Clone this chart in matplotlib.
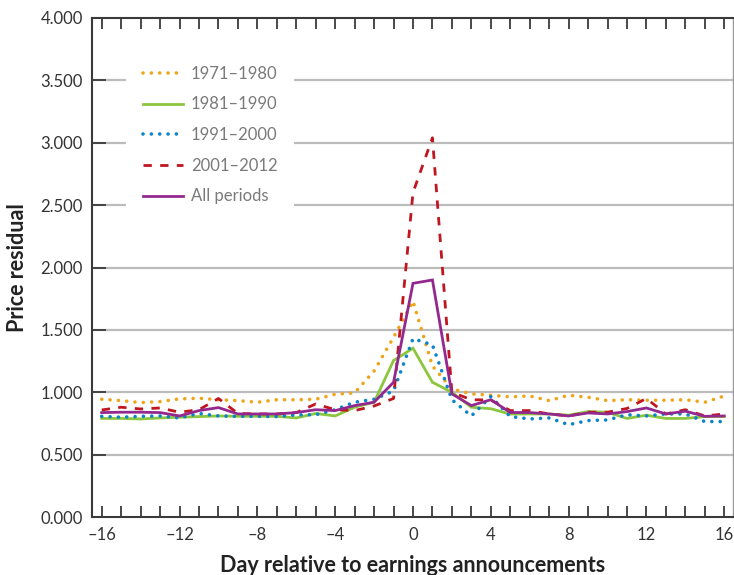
import matplotlib
matplotlib.use("Agg")
import matplotlib.pyplot as plt

days = list(range(-16, 17))

s_1971_1980 = [0.944, 0.933, 0.917, 0.925, 0.947, 0.952, 0.940, 0.933, 0.920, 0.940, 0.940,
               0.944, 0.984, 0.995, 1.170, 1.440, 1.730, 1.210, 1.027, 0.987, 0.976, 0.963,
               0.970, 0.933, 0.976, 0.960, 0.933, 0.940, 0.936, 0.936, 0.940, 0.920, 0.970]
s_1981_1990 = [0.790, 0.790, 0.786, 0.794, 0.800, 0.805, 0.810, 0.807, 0.807, 0.807, 0.794,
               0.830, 0.810, 0.880, 0.920, 1.254, 1.353, 1.080, 1.000, 0.880, 0.868, 0.825,
               0.826, 0.826, 0.816, 0.845, 0.840, 0.790, 0.816, 0.790, 0.790, 0.805, 0.805]
s_1991_2000 = [0.807, 0.800, 0.807, 0.810, 0.794, 0.830, 0.810, 0.807, 0.807, 0.805, 0.818,
               0.820, 0.860, 0.920, 0.944, 1.010, 1.430, 1.380, 0.940, 0.810, 0.965, 0.805,
               0.786, 0.794, 0.740, 0.773, 0.778, 0.820, 0.810, 0.826, 0.826, 0.765, 0.765]
s_2001_2012 = [0.858, 0.880, 0.866, 0.874, 0.840, 0.860, 0.950, 0.830, 0.826, 0.826, 0.837,
               0.906, 0.860, 0.853, 0.890, 0.950, 2.600, 3.040, 1.000, 0.940, 0.938, 0.853,
               0.853, 0.826, 0.810, 0.840, 0.840, 0.870, 0.950, 0.826, 0.860, 0.810, 0.826]
s_all = [0.837, 0.840, 0.840, 0.837, 0.810, 0.853, 0.877, 0.826, 0.826, 0.826, 0.837,
         0.860, 0.853, 0.893, 0.920, 1.080, 1.873, 1.900, 0.987, 0.893, 0.940, 0.838,
         0.837, 0.826, 0.810, 0.834, 0.826, 0.845, 0.874, 0.826, 0.848, 0.807, 0.810]

labels = ["1971\u20131980", "1981\u20131990", "1991\u20132000", "2001\u20132012", "All periods"]
x_ticks = [-16, -12, -8, -4, 0, 4, 8, 12, 16]
x_ticklabels = ["\u201316", "\u201312", "\u20138", "\u20134", "0", "4", "8", "12", "16"]
y_ticks = [0.0, 0.5, 1.0, 1.5, 2.0, 2.5, 3.0, 3.5, 4.0]
y_ticklabels = ["0.000", "0.500", "1.000", "1.500", "2.000", "2.500", "3.000", "3.500", "4.000"]

plt.rcParams['font.family'] = ['Lato', 'DejaVu Sans']

fig = plt.figure(figsize=(7.34, 5.75), dpi=100)
ax = fig.add_axes([92/734, 58/575, 641/734, 499/575])

dark = "#3a3a3a"
grid_c = "#bcbcbc"

dot_style = (0, (0.01, 2.3))
dash_style = (0, (3.0, 3.0))

series = [
    (s_1971_1980, "#EFA51A", dot_style, 2.6, "round"),
    (s_1981_1990, "#8CC63E", "-", 2.0, "butt"),
    (s_1991_2000, "#0B84C9", dot_style, 2.6, "round"),
    (s_2001_2012, "#C0161F", dash_style, 2.0, "butt"),
    (s_all, "#93288E", "-", 2.0, "butt"),
]
handles = []
for (vals, col, ls, lw, cap), lab in zip(series, labels):
    ln, = ax.plot(days, vals, color=col, linestyle=ls, linewidth=lw,
                  dash_capstyle=cap, solid_joinstyle="miter", label=lab, zorder=3)
    handles.append(ln)

ax.set_xlim(-16.5, 16.45)
ax.set_ylim(0, 4.0)
ax.set_yticks(y_ticks)
ax.set_yticklabels(y_ticklabels)
ax.set_xticks(days)
ax.set_xticklabels([x_ticklabels[x_ticks.index(d)] if d in x_ticks else "" for d in days])

for y in y_ticks[1:-1]:
    ax.axhline(y, color=grid_c, linewidth=1.6, zorder=1)

ax.tick_params(axis='x', which='both', direction='in', length=8, width=1.3, color=dark,
               top=True, bottom=True, labelsize=12, labelcolor="#333333", pad=7)
ax.tick_params(axis='y', which='both', direction='in', length=10, width=1.3, color=dark,
               left=True, right=False, labelsize=12, labelcolor="#333333", pad=6.5)

for side in ["left", "top", "bottom"]:
    ax.spines[side].set_color(dark)
    ax.spines[side].set_linewidth(1.5)
ax.spines["right"].set_color("#9a9a9a")
ax.spines["right"].set_linewidth(1.0)

ax.set_xlabel("Day relative to earnings announcements", fontsize=15.5, fontweight="bold",
              color="#222222", labelpad=9)
ax.set_ylabel("Price residual", fontsize=15.5, fontweight="bold", color="#222222", labelpad=9)

leg = ax.legend(handles=handles, labels=labels, loc="upper left",
                bbox_to_anchor=((126 - 92) / 641, (517 - 49) / 499),
                frameon=True, facecolor="white", edgecolor="none", framealpha=1.0,
                fontsize=12, labelcolor="#7a7a7a", handlelength=2.4, handletextpad=0.5,
                labelspacing=0.88, borderpad=1.0, borderaxespad=0)
leg.get_frame().set_linewidth(0)
leg.set_zorder(2)

fig.savefig("out.png", dpi=100)
